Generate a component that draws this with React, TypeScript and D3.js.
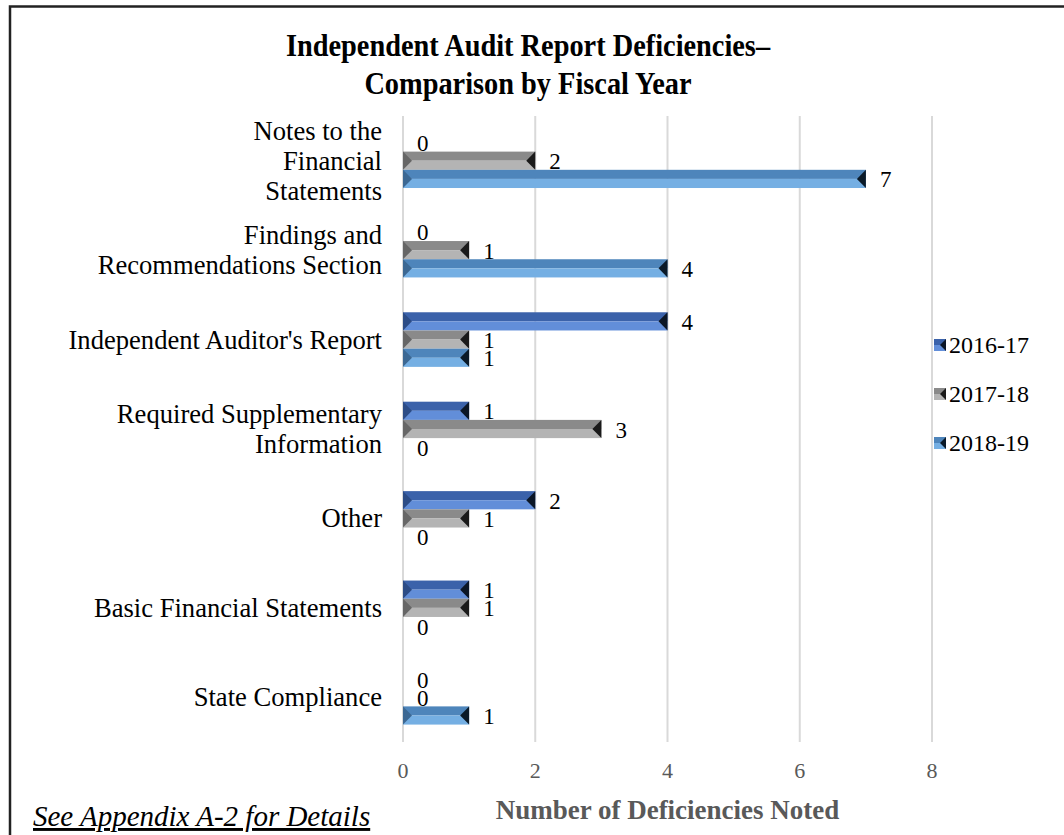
import React from "react";
import * as d3 from "d3";

const categories = [
  "Notes to the|Financial|Statements",
  "Findings and|Recommendations Section",
  "Independent Auditor's Report",
  "Required Supplementary|Information",
  "Other",
  "Basic Financial Statements",
  "State Compliance",
];
const seriesNames = ["2016-17", "2017-18", "2018-19"];
const values2016 = [0, 0, 4, 1, 2, 1, 0];
const values2017 = [2, 1, 1, 3, 1, 1, 0];
const values2018 = [7, 4, 1, 0, 0, 0, 1];
const xTicks = [0, 2, 4, 6, 8];

const W = 1064;
const H = 835;
const FONT = "'Liberation Serif', 'Times New Roman', serif";

const palettes = [
  { top: "#3b62aa", bottom: "#628ed9", left: "#2c4c86", right: "#0b1626" },
  { top: "#8a8a8a", bottom: "#b4b4b4", left: "#666666", right: "#1a1a1a" },
  { top: "#4e85bb", bottom: "#75afe3", left: "#3c6893", right: "#0b1a28" },
];

function Bar({ x0, x1, y, h, p }: { x0: number; x1: number; y: number; h: number; p: any }) {
  const w = x1 - x0;
  if (w <= 0) return null;
  const tri = Math.min(9, w / 2);
  const cy = y + h / 2;
  return (
    <g>
      <rect x={x0} y={y} width={w} height={h / 2} fill={p.top} />
      <rect x={x0} y={cy} width={w} height={h / 2} fill={p.bottom} />
      <polygon points={`${x0},${y} ${x0 + tri},${cy} ${x0},${y + h}`} fill={p.left} />
      <polygon points={`${x1},${y} ${x1 - tri},${cy} ${x1},${y + h}`} fill={p.right} />
    </g>
  );
}

export default function App() {
  const plotLeft = 403;
  const plotRight = 932;
  const plotTop = 116;
  const plotBottom = 742;
  const x = d3.scaleLinear().domain([0, 8]).range([plotLeft, plotRight]);
  const y = d3.scaleBand<number>().domain(d3.range(categories.length)).range([plotTop, plotBottom]);
  const barH = 18.2;
  const all = [values2016, values2017, values2018];
  const titleX = 528;
  const titleScale = 0.886;

  return (
    <svg width={W} height={H} style={{ position: "absolute", left: 0, top: 0, fontFamily: FONT }}>
      <rect x={0} y={0} width={W} height={H} fill="#fff" />
      <rect x={10} y={6.5} width={W + 10} height={H + 10} fill="none" stroke="#222" strokeWidth={2.5} />
      <g transform={`translate(${titleX},0) scale(${titleScale},1)`}>
        <text x={0} y={56} textAnchor="middle" fontSize={32} fontWeight="bold" fill="#000">
          Independent Audit Report Deficiencies–
        </text>
        <text x={0} y={94} textAnchor="middle" fontSize={32} fontWeight="bold" fill="#000">
          Comparison by Fiscal Year
        </text>
      </g>
      {xTicks.map((t) => (
        <line key={t} x1={x(t)} x2={x(t)} y1={plotTop} y2={plotBottom} stroke="#d9d9d9" strokeWidth={2} />
      ))}
      {categories.map((c, i) => {
        const cy = (y(i) as number) + y.bandwidth() / 2;
        const lines = c.split("|");
        const lh = 30;
        return (
          <g key={c}>
            {lines.map((l, k) => (
              <text
                key={k}
                x={382}
                y={cy + (k - (lines.length - 1) / 2) * lh}
                dominantBaseline="central"
                textAnchor="end"
                fontSize={26.6}
                fill="#000"
              >
                {l}
              </text>
            ))}
            {all.map((vals, s) => {
              const by = cy + (s - 1.5) * barH;
              return (
                <g key={s}>
                  <Bar x0={x(0)} x1={x(vals[i])} y={by} h={barH} p={palettes[s]} />
                  <text
                    x={x(vals[i]) + 14}
                    y={by + barH / 2 + 1}
                    dominantBaseline="central"
                    fontSize={23}
                    fill="#000"
                  >
                    {vals[i]}
                  </text>
                </g>
              );
            })}
          </g>
        );
      })}
      {xTicks.map((t) => (
        <text key={t} x={x(t)} y={770} textAnchor="middle" dominantBaseline="central" fontSize={22} fill="#595959">
          {t}
        </text>
      ))}
      <text x={(plotLeft + plotRight) / 2} y={810} textAnchor="middle" dominantBaseline="central" fontSize={27} fontWeight="bold" fill="#595959">
        Number of Deficiencies Noted
      </text>
      <text x={33} y={826} fontSize={29} fontStyle="italic" textDecoration="underline" fill="#000">
        See Appendix A-2 for Details
      </text>
      {seriesNames.map((n, s) => {
        const ly = 345 + s * 49;
        const p = palettes[s];
        return (
          <g key={n}>
            <rect x={934} y={ly - 6} width={12} height={6} fill={p.top} />
            <rect x={934} y={ly} width={12} height={6} fill={p.bottom} />
            <polygon points={`${946},${ly - 6} ${940},${ly} ${946},${ly + 6}`} fill={p.right} />
            <text x={949} y={ly} dominantBaseline="central" fontSize={24} fill="#000">
              {n}
            </text>
          </g>
        );
      })}
    </svg>
  );
}
